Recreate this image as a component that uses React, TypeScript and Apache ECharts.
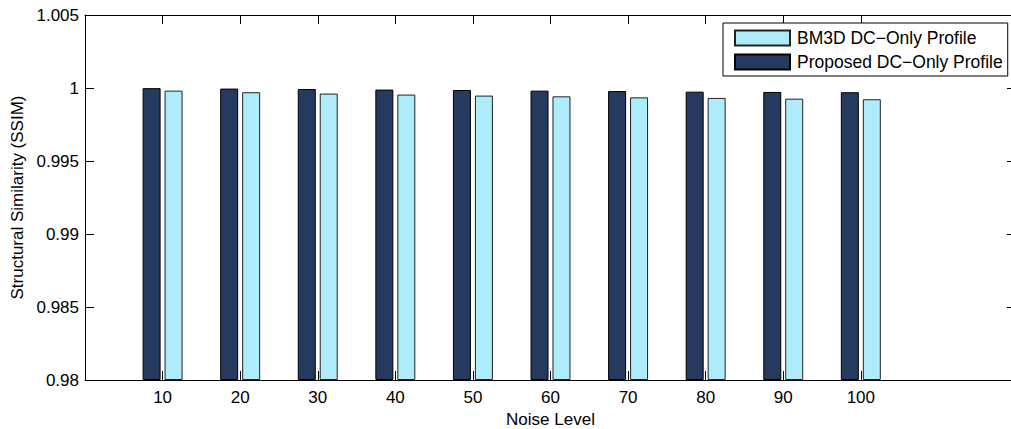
import React, { useEffect, useRef } from "react";
import * as echarts from "echarts";

// Noise levels on the x axis
const noiseLevels = [10, 20, 30, 40, 50, 60, 70, 80, 90, 100];
// SSIM of the proposed DC-only profile
const proposedSSIM = [0.99999, 0.99996, 0.99993, 0.99989, 0.99986, 0.99982, 0.99979, 0.99975, 0.99973, 0.99971];
// SSIM of the BM3D DC-only profile
const bm3dSSIM = [0.99982, 0.99971, 0.99962, 0.99955, 0.99948, 0.99943, 0.99936, 0.99932, 0.99927, 0.99923];
// y tick range
const yMin = 0.98;
const yMax = 1.005;
const yStep = 0.005;

const FONT = "'Liberation Sans', Arial, Helvetica, sans-serif";
const DARK = "#263a5f";
const LIGHT = "#aeebfb";

export default function App() {
  const ref = useRef<HTMLDivElement>(null);

  useEffect(() => {
    if (!ref.current) return;
    const chart = echarts.init(ref.current, undefined, { renderer: "svg" });

    const xCommon = {
      type: "value" as const,
      min: 0,
      max: 120,
      interval: 10,
      splitLine: { show: false },
      axisLine: { show: true, onZero: false, lineStyle: { color: "#000", width: 1 } },
      axisTick: {
        show: true,
        inside: true,
        length: 9,
        customValues: noiseLevels,
        lineStyle: { color: "#000", width: 1 },
      },
    };
    const yCommon = {
      type: "value" as const,
      min: yMin,
      max: yMax,
      interval: yStep,
      startValue: yMin,
      splitLine: { show: false },
      axisLine: { show: true, onZero: false, lineStyle: { color: "#000", width: 1 } },
      axisTick: { show: true, inside: true, length: 9, lineStyle: { color: "#000", width: 1 } },
    };

    chart.setOption({
      animation: false,
      backgroundColor: "#fff",
      textStyle: { fontFamily: FONT },
      grid: {
        left: 85,
        right: -5,
        top: 15,
        bottom: 49,
        containLabel: false,
        outerBoundsMode: "none",
      },
      legend: {
        orient: "vertical",
        left: 723,
        top: 23,
        data: ["BM3D DC\u2212Only Profile", "Proposed DC\u2212Only Profile"],
        itemWidth: 55,
        itemHeight: 15,
        itemGap: 6,
        padding: [6, 5, 5, 11],
        backgroundColor: "#fff",
        borderColor: "#000",
        borderWidth: 1,
        borderRadius: 0,
        icon: "rect",
        textStyle: { fontFamily: FONT, fontSize: 17.5, color: "#000", padding: [0, 0, 0, 2] },
      },
      xAxis: [
        {
          ...xCommon,
          position: "bottom",
          name: "Noise Level",
          nameLocation: "middle",
          nameGap: 28,
          nameTextStyle: { fontFamily: FONT, fontSize: 17, color: "#000" },
          axisLabel: {
            show: true,
            customValues: noiseLevels,
            margin: 9,
            fontFamily: FONT,
            fontSize: 17,
            color: "#000",
          },
        },
        {
          ...xCommon,
          position: "top",
          axisLabel: { show: false },
        },
      ],
      yAxis: [
        {
          ...yCommon,
          position: "left",
          name: "Structural Similarity (SSIM)",
          nameLocation: "middle",
          nameGap: 57,
          nameTruncate: { maxWidth: 400 },
          nameTextStyle: { fontFamily: FONT, fontSize: 17, color: "#000" },
          axisLabel: {
            show: true,
            margin: 6,
            fontFamily: FONT,
            fontSize: 17,
            color: "#000",
            formatter: (v: number) => String(Number(v.toFixed(3))),
          },
        },
        {
          ...yCommon,
          position: "right",
          axisLabel: { show: false },
        },
      ],
      series: [
        {
          name: "Proposed DC\u2212Only Profile",
          type: "bar",
          xAxisIndex: 0,
          yAxisIndex: 0,
          barWidth: 18,
          barGap: "22%",
          data: noiseLevels.map((x, i) => [x, proposedSSIM[i]]),
          itemStyle: { color: DARK, borderColor: "#000", borderWidth: 1 },
          emphasis: { disabled: true },
        },
        {
          name: "BM3D DC\u2212Only Profile",
          type: "bar",
          xAxisIndex: 0,
          yAxisIndex: 0,
          barWidth: 18,
          barGap: "22%",
          data: noiseLevels.map((x, i) => [x, bm3dSSIM[i]]),
          itemStyle: { color: LIGHT, borderColor: "#222", borderWidth: 1 },
          emphasis: { disabled: true },
        },
      ],
    });

    return () => chart.dispose();
  }, []);

  return (
    <div
      ref={ref}
      style={{ position: "fixed", left: 0, top: 0, width: 1011, height: 429 }}
    />
  );
}
